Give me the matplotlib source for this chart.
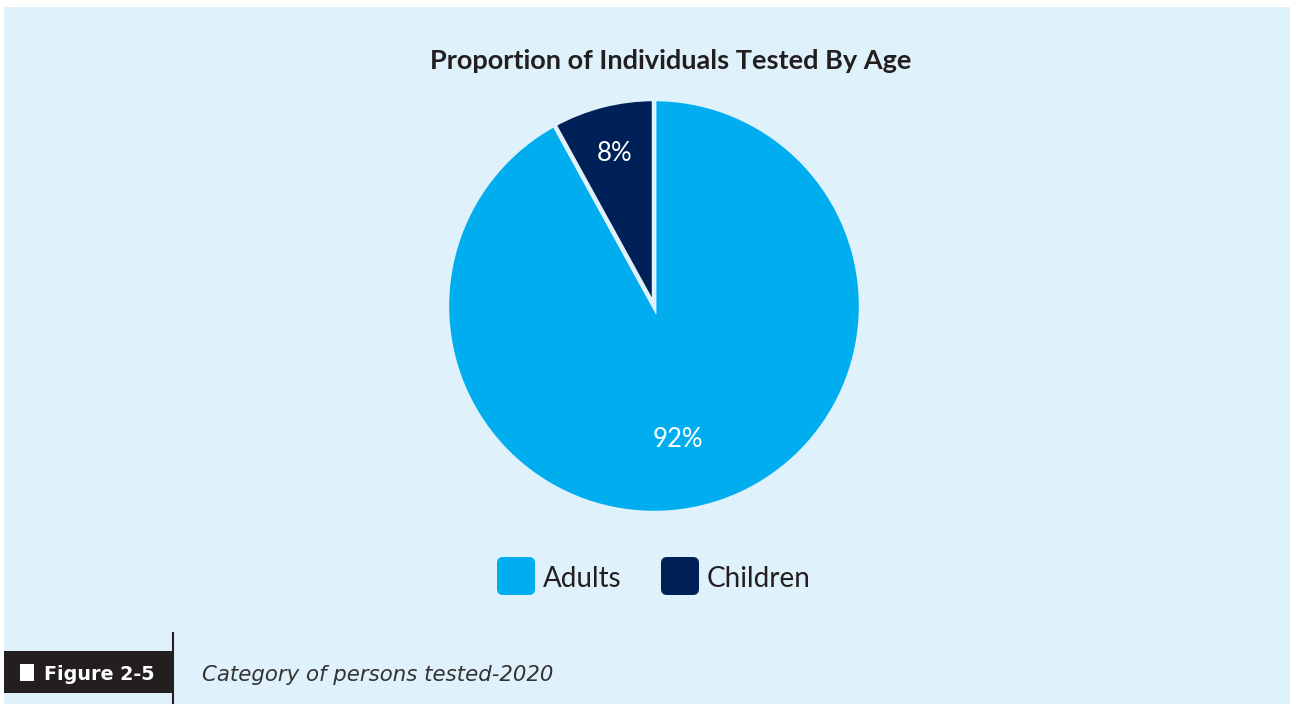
import matplotlib.pyplot as plt
from matplotlib.patches import Rectangle, FancyBboxPatch
import numpy as np

# share of individuals tested, 2020
labels = ["Adults", "Children"]
shares = [92, 8]
colors = ["#00aeef", "#002157"]
pct_text = ["92%", "8%"]

bg = "#dff1fb"
W, H = 1290, 704

fig = plt.figure(figsize=(W / 100, H / 100), dpi=100)
fig.patch.set_facecolor("white")
ax = fig.add_axes([0, 0, 1, 1])

# panel background
ax.add_patch(Rectangle((4, 0), W - 4, H - 7, facecolor=bg, edgecolor="none", zorder=0))

ax.text(671, H - 61, "Proportion of Individuals Tested By Age", ha="center", va="center",
        fontsize=19.5, fontweight="bold", family="Lato", color="#231f20")

wedges, _ = ax.pie(shares, colors=colors, startangle=90, counterclock=False,
                   center=(654, H - 306), radius=207, frame=True,
                   wedgeprops=dict(edgecolor=bg, linewidth=3.2))
ax.set_xlim(0, W)
ax.set_ylim(0, H)
ax.set_aspect("equal")
ax.axis("off")

label_dist = [0.645, 0.77]
label_shift = [-4, 0]  # nudge in degrees
for w, txt, d, s in zip(wedges, pct_text, label_dist, label_shift):
    mid = np.deg2rad((w.theta1 + w.theta2) / 2 + s)
    x = w.center[0] + d * w.r * np.cos(mid)
    y = w.center[1] + d * w.r * np.sin(mid) - 2
    ax.text(x, y, txt, ha="center", va="center", color="white", fontsize=18.5, family="Lato")

# legend with rounded swatches
legend_x = [497, 661]
for lx, lab, c in zip(legend_x, labels, colors):
    ax.add_patch(FancyBboxPatch((lx + 6, H - 595 + 6), 26, 26,
                                boxstyle="round,pad=6", facecolor=c, edgecolor="none"))
    ax.text(lx + 46, H - 579, lab, ha="left", va="center", fontsize=20,
            family="Lato", color="#231f20")

# figure caption strip
ax.add_patch(Rectangle((4, H - 693), 168, 42, facecolor="#231f20", edgecolor="none"))
ax.plot([173, 173], [0, H - 633], color="#231f20", lw=1.5)
ax.add_patch(Rectangle((20, H - 681), 14, 17, facecolor="white", edgecolor="none"))
ax.text(44, H - 675, "Figure 2-5", ha="left", va="center", fontsize=13.8,
        fontweight="bold", color="white", family="DejaVu Sans")
ax.text(202, H - 675, "Category of persons tested-2020", ha="left", va="center",
        fontsize=15.3, style="italic", color="#333333", family="DejaVu Sans")

fig.savefig("out.png", dpi=100, facecolor=fig.get_facecolor())
